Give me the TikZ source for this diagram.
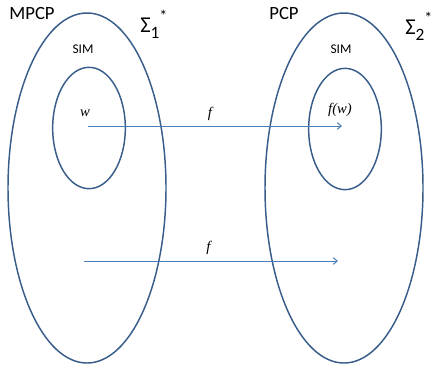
\documentclass[tikz,border=0pt]{standalone}
\usepackage{fontspec}
\setmainfont{Liberation Serif}
\setsansfont{Carlito}
\usetikzlibrary{shapes.geometric, arrows.meta, positioning}
\definecolor{setblue}{RGB}{56,93,138}
\definecolor{mapblue}{RGB}{74,126,187}
\newcommand{\starset}[1]{Σ\raisebox{-0.55ex}{\fontsize{13}{13}\selectfont #1}\raisebox{1.0ex}{\fontsize{12}{12}\selectfont *}}
\tikzset{
  outerset/.style={ellipse, draw=setblue, line width=1.1pt,
    minimum width=118.5pt, minimum height=262.5pt, inner sep=0pt},
  innerset/.style={ellipse, draw=setblue, line width=1.1pt,
    minimum width=54.5pt, minimum height=91pt, inner sep=0pt},
  setname/.style={font=\sffamily\fontsize{14}{16}\selectfont, inner sep=0pt},
  simlabel/.style={font=\sffamily\fontsize{10}{12}\selectfont, inner sep=0pt},
  alphabet/.style={font=\sffamily\fontsize{17}{19}\selectfont, inner sep=0pt},
  maplabel/.style={font=\itshape\fontsize{11}{13}\selectfont, inner sep=0pt, text=black},
  maparrow/.style={-{Straight Barb[length=3pt, width=5pt]}, color=mapblue, line width=0.75pt}
}

\begin{document}
\begin{tikzpicture}[x=0.75pt, y=-0.75pt]
  \useasboundingbox (0,0) rectangle (434,365);

  % the two sets of strings
  \node[outerset] (leftset)  at (87,188)  {};
  \node[outerset] (rightset) at (344,188) {};
  \node[innerset] (leftsim)  at (89,128)  {};
  \node[innerset] (rightsim) at (345,129) {};

  \node[setname] (mpcp) at (32,14) {MPCP};
  \node[setname] (pcp)  at (284,14) {PCP};
  \node[alphabet, anchor=west] (sigmaone) at (140,24) {\starset{1}};
  \node[alphabet, anchor=west] (sigmatwo) at (405,26) {\starset{2}};
  \node[simlabel] (simone) at (83,49)  {SIM};
  \node[simlabel] (simtwo) at (341,49) {SIM};

  % the reduction
  \node[maplabel] (w)  at (85,113)  {w};
  \node[maplabel] (fw) at (340,110) {f(w)};
  \coordinate (wstart) at (88,126);
  \coordinate (wend)   at (342,126);
  \draw[maparrow] (wstart) -- (wend) node[maplabel, pos=0.48, yshift=9pt] (ftop) {f};

  \coordinate (ustart) at (84,261);
  \coordinate (uend)   at (338,261);
  \draw[maparrow] (ustart) -- (uend) node[maplabel, pos=0.49, yshift=10pt] (fbottom) {f};
\end{tikzpicture}
\end{document}
